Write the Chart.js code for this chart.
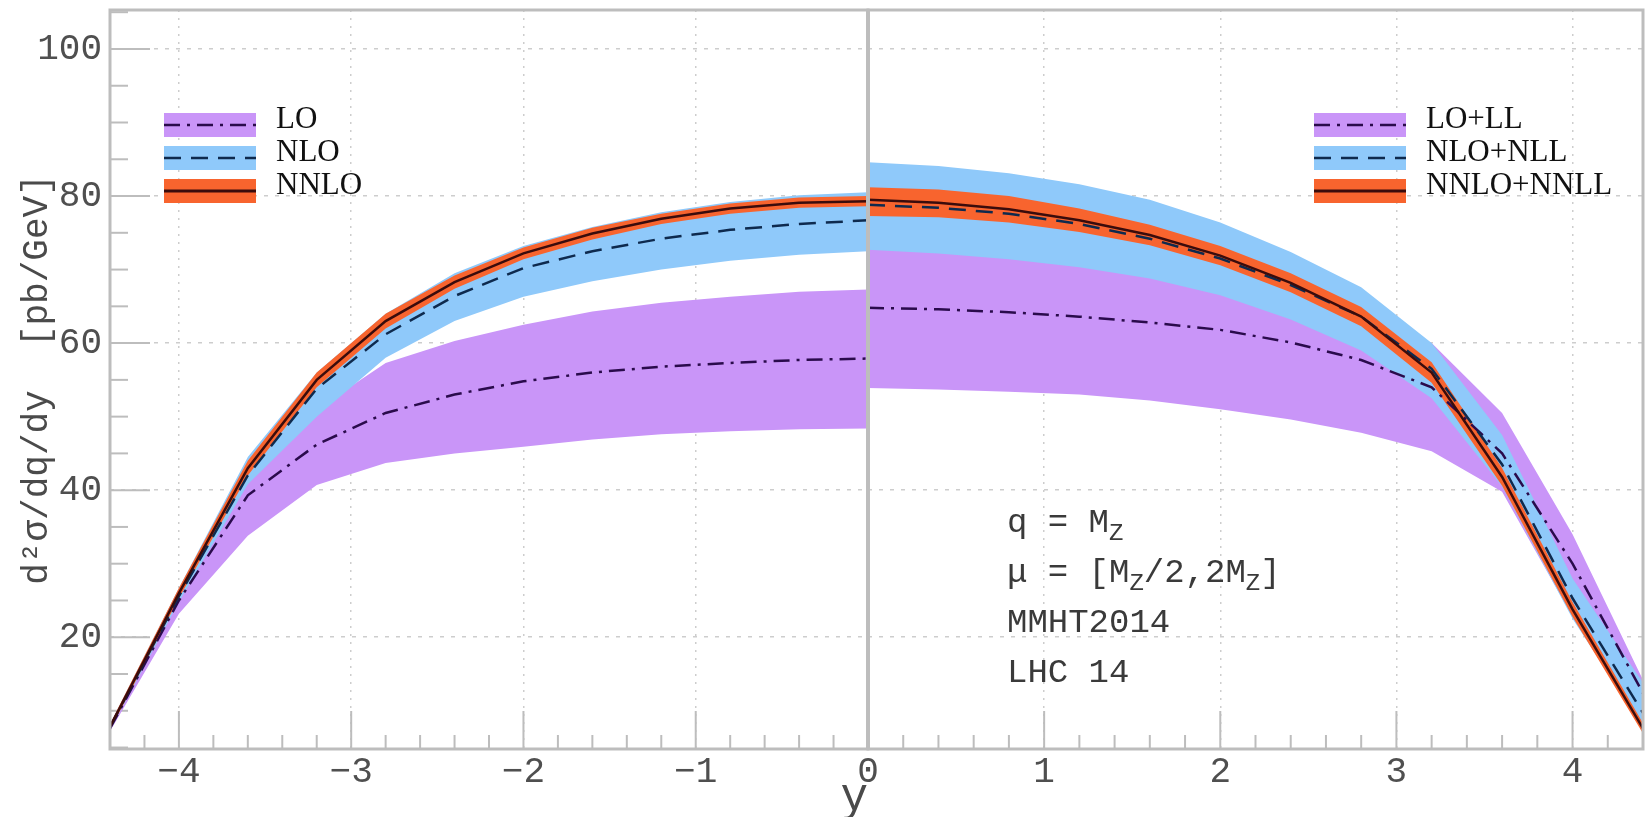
<!DOCTYPE html>
<html>
<head>
<meta charset="utf-8">
<script src="https://cdn.jsdelivr.net/npm/chart.js@4.4.0/dist/chart.umd.min.js"></script>
<style>
  html, body { margin: 0; padding: 0; background: #fff; }
  #wrap { position: relative; width: 1648px; height: 817px; overflow: hidden; background: #fff; }
  #left { position: absolute; left: 0; top: 0; width: 900px; height: 817px; }
  #right { position: absolute; left: 858px; top: 0; width: 790px; height: 817px; }
</style>
</head>
<body>
<div id="wrap">
  <canvas id="left" width="900" height="817"></canvas>
  <canvas id="right" width="790" height="817"></canvas>
</div>
<script>
// rapidity points, fixed order (left) and resummed (right)
const yFixed = [-4.4, -4.0, -3.6, -3.2, -2.8, -2.4, -2.0, -1.6, -1.2, -0.8, -0.4, 0];
const yResum = [0, 0.4, 0.8, 1.2, 1.6, 2.0, 2.4, 2.8, 3.2, 3.6, 4.0, 4.4];

// fixed order
const loMid  = [7.6, 25.0, 39.3, 46.2, 50.5, 53.0, 54.8, 56.0, 56.8, 57.3, 57.7, 57.9];
const loLow  = [7.2, 23.2, 33.8, 40.7, 43.7, 45.0, 45.9, 46.9, 47.6, 48.0, 48.3, 48.4];
const loHigh = [8.0, 26.5, 42.0, 51.0, 57.3, 60.3, 62.5, 64.3, 65.5, 66.3, 67.0, 67.3];
const nloMid  = [7.8, 25.6, 42.0, 53.8, 61.2, 66.4, 70.2, 72.5, 74.2, 75.4, 76.2, 76.7];
const nloLow  = [7.4, 24.8, 40.8, 50.0, 58.0, 63.0, 66.3, 68.4, 70.0, 71.2, 72.0, 72.5];
const nloHigh = [8.2, 26.7, 44.5, 56.0, 64.0, 69.5, 73.2, 75.8, 77.8, 79.2, 80.1, 80.5];
const nnloMid  = [7.8, 26.0, 43.0, 55.0, 63.0, 68.3, 72.2, 74.9, 76.9, 78.3, 79.1, 79.3];
const nnloLow  = [7.4, 25.3, 42.0, 54.0, 62.0, 67.4, 71.4, 74.1, 76.2, 77.6, 78.4, 78.6];
const nnloHigh = [8.2, 26.7, 44.0, 56.0, 64.0, 69.2, 73.0, 75.7, 77.6, 79.0, 79.8, 80.0];

// resummed
const llMid  = [64.8, 64.6, 64.2, 63.6, 62.8, 61.8, 60.1, 57.7, 54.0, 45.0, 30.0, 12.4];
const llLow  = [53.9, 53.7, 53.4, 53.0, 52.2, 51.0, 49.6, 47.8, 45.3, 39.8, 22.8, 7.3];
const llHigh = [75.4, 75.0, 74.3, 73.4, 72.0, 70.0, 67.4, 64.3, 60.0, 50.5, 34.0, 14.2];
const nllMid  = [78.8, 78.4, 77.6, 76.2, 74.2, 71.5, 67.9, 63.6, 56.5, 43.5, 25.3, 9.7];
const nllLow  = [72.7, 72.2, 71.4, 70.3, 68.8, 66.5, 63.2, 59.0, 52.5, 40.5, 22.5, 7.8];
const nllHigh = [84.6, 84.1, 83.1, 81.6, 79.5, 76.4, 72.4, 67.6, 60.0, 47.5, 28.0, 13.8];
const nnllMid  = [79.5, 79.1, 78.2, 76.7, 74.7, 71.9, 68.2, 63.6, 56.0, 41.8, 23.8, 7.6];
const nnllLow  = [77.3, 77.1, 76.4, 75.1, 73.3, 70.6, 66.9, 62.3, 54.6, 40.6, 22.8, 6.9];
const nnllHigh = [81.2, 80.9, 80.0, 78.3, 76.1, 73.2, 69.5, 64.9, 57.4, 43.0, 24.8, 8.3];

const yTicks = [20, 40, 60, 80, 100];
const leftTicks = [-4, -3, -2, -1, 0];
const rightTicks = [1, 2, 3, 4];
const leftLegend = ['LO', 'NLO', 'NNLO'];
const rightLegend = ['LO+LL', 'NLO+NLL', 'NNLO+NNLL'];
const notes = [
  [['q = M', 0], ['Z', 1]],
  [['\u03bc = [M', 0], ['Z', 1], ['/2,2M', 0], ['Z', 1], [']', 0]],
  [['MMHT2014', 0]],
  [['LHC 14', 0]]
];

const purple = '#c995f8';
const blue = '#8fc9fa';
const orange = '#f8642e';
const loLine = '#2a0b4c';
const nloLine = '#0e2a4e';
const nnloLine = '#3b0c0c';
const dashDot = [16, 7, 3, 7];
const dashed = [17, 10];
const gridColor = '#cdcdcd';
const frameColor = '#bdbdbd';
const tickColor = '#4f4f4f';
const monoFont = 'Liberation Mono';

function pts(xs, vs) {
    return xs.map((x, i) => ({x: x, y: vs[i]}));
}

function band(xs, low, high, color, order) {
    return [
        {data: pts(xs, low), borderWidth: 0, pointRadius: 0, fill: false, order: order},
        {data: pts(xs, high), borderWidth: 0, pointRadius: 0, backgroundColor: color, fill: '-1', order: order}
    ];
}

function line(xs, vs, color, dash, width, order) {
    return {data: pts(xs, vs), borderColor: color, borderWidth: width, borderDash: dash,
            pointRadius: 0, fill: false, tension: 0, order: order};
}

function decor(opts) {
    return {
        id: 'decor',
        beforeDatasetsDraw(chart) {
            const {ctx, chartArea: a, scales: {x, y}} = chart;
            ctx.save();
            ctx.strokeStyle = frameColor;
            ctx.lineWidth = 2;
            for (let k = Math.ceil(x.min * 5 - 1e-6); k <= Math.floor(x.max * 5 + 1e-6); k++) {
                const px = x.getPixelForValue(k / 5);
                if (px < a.left + 3 || px > a.right - 3) continue;
                const len = (k % 5 === 0) ? 38 : 14;
                ctx.beginPath();
                ctx.moveTo(px, a.bottom);
                ctx.lineTo(px, a.bottom - len);
                ctx.stroke();
            }
            if (opts.yMinor) {
                for (let v = 5; v <= y.max; v += 5) {
                    const py = y.getPixelForValue(v);
                    const len = (v % 20 === 0) ? 40 : 18;
                    ctx.beginPath();
                    ctx.moveTo(a.left, py);
                    ctx.lineTo(a.left + len, py);
                    ctx.stroke();
                }
            }
            ctx.restore();
        },
        afterDatasetsDraw(chart) {
            const {ctx, chartArea: a} = chart;
            ctx.save();
            ctx.strokeStyle = frameColor;
            ctx.lineWidth = 3;
            ctx.strokeRect(a.left, a.top, a.right - a.left, a.bottom - a.top);
            if (opts.centerLine) {
                ctx.lineWidth = 4;
                ctx.beginPath();
                ctx.moveTo(a.left, a.top);
                ctx.lineTo(a.left, a.bottom);
                ctx.stroke();
            }
            // legend
            const fills = [purple, blue, orange];
            const lines = [loLine, nloLine, nnloLine];
            const dashes = [dashDot, dashed, []];
            const rows = [125, 158, 191];
            const lx = a.left + opts.legendX;
            opts.legend.forEach((label, i) => {
                ctx.fillStyle = fills[i];
                ctx.fillRect(lx, rows[i] - 12, 92, 24);
                ctx.strokeStyle = lines[i];
                ctx.lineWidth = i === 2 ? 3 : 2.5;
                ctx.setLineDash(dashes[i]);
                ctx.beginPath();
                ctx.moveTo(lx, rows[i]);
                ctx.lineTo(lx + 92, rows[i]);
                ctx.stroke();
                ctx.setLineDash([]);
                ctx.fillStyle = '#111';
                ctx.font = '31px "Liberation Serif"';
                ctx.textBaseline = 'alphabetic';
                ctx.textAlign = 'left';
                ctx.fillText(label, lx + 112, rows[i] + 3);
            });
            // annotation
            if (opts.notes) {
                const baseX = a.left + 139;
                const rowsY = [532, 582, 632, 682];
                ctx.fillStyle = '#3a3a3a';
                opts.notes.forEach((parts, r) => {
                    let cx = baseX;
                    parts.forEach(([txt, sub]) => {
                        ctx.font = (sub ? 24 : 34) + 'px "' + monoFont + '"';
                        ctx.fillText(txt, cx, rowsY[r] + (sub ? 8 : 0));
                        cx += ctx.measureText(txt).width;
                    });
                });
            }
            ctx.restore();
        }
    };
}

const tickFont = {family: monoFont, size: 36};

function xScale(min, max, ticks, title) {
    return {
        type: 'linear', min: min, max: max,
        afterBuildTicks: s => { s.ticks = ticks.map(v => ({value: v})); },
        afterFit: s => { s.height = 68; s.paddingLeft = 0; s.paddingRight = 0; },
        ticks: {font: tickFont, color: tickColor, padding: 2, maxRotation: 0, autoSkip: false,
                callback: v => String(v).replace('-', '\u2212')},
        grid: {drawTicks: false, lineWidth: 1.5,
               color: c => (c.tick && c.tick.value === 0) ? 'rgba(0,0,0,0)' : gridColor},
        border: {display: false, dash: [2, 6]},
        title: title
    };
}

function yScale(showLabels, width) {
    return {
        min: 4.8, max: 105.3,
        afterBuildTicks: s => { s.ticks = yTicks.map(v => ({value: v})); },
        afterFit: s => { s.width = width; s.paddingTop = 0; s.paddingBottom = 0; },
        ticks: {display: showLabels, font: tickFont, color: tickColor, padding: 8},
        grid: {drawTicks: false, lineWidth: 1.5, color: gridColor},
        border: {display: false, dash: [4, 7]},
        title: {display: showLabels, text: 'd\u00b2\u03c3/dq/dy  [pb/GeV]', color: '#4a4a4a',
                font: {family: monoFont, size: 36}, padding: {top: 16, bottom: 0}}
    };
}

function makeChart(id, xs, sets, scales, padding, plugin) {
    const lo = sets[0], nlo = sets[1], nnlo = sets[2];
    const datasets = []
        .concat(band(xs, lo[1], lo[2], purple, 6))
        .concat(band(xs, nlo[1], nlo[2], blue, 5))
        .concat(band(xs, nnlo[1], nnlo[2], orange, 4))
        .concat([
            line(xs, lo[0], loLine, dashDot, 2.5, 3),
            line(xs, nlo[0], nloLine, dashed, 2.5, 2),
            line(xs, nnlo[0], nnloLine, [], 2.5, 1)
        ]);
    return new Chart(document.getElementById(id).getContext('2d'), {
        type: 'line',
        data: {datasets: datasets},
        options: {
            responsive: false,
            animation: false,
            layout: {padding: padding},
            plugins: {legend: {display: false}, tooltip: {enabled: false}},
            scales: scales
        },
        plugins: [plugin]
    });
}

makeChart('left', yFixed,
    [[loMid, loLow, loHigh], [nloMid, nloLow, nloHigh], [nnloMid, nnloLow, nnloHigh]],
    {
        x: xScale(-4.4, 0, leftTicks, {display: true, text: 'y', align: 'end', color: '#4a4a4a',
                 font: {family: monoFont, size: 46, lineHeight: 0.9}, padding: {top: 0, bottom: -2}}),
        y: yScale(true, 110)
    },
    {left: 0, right: 32, top: 10, bottom: 0},
    decor({yMinor: true, legend: leftLegend, legendX: 54}));

makeChart('right', yResum,
    [[llMid, llLow, llHigh], [nllMid, nllLow, nllHigh], [nnllMid, nnllLow, nnllHigh]],
    {
        x: xScale(0, 4.4, rightTicks, {display: false}),
        y: yScale(false, 0)
    },
    {left: 10, right: 5, top: 10, bottom: 0},
    decor({centerLine: true, legend: rightLegend, legendX: 446, notes: notes}));
</script>
</body>
</html>
